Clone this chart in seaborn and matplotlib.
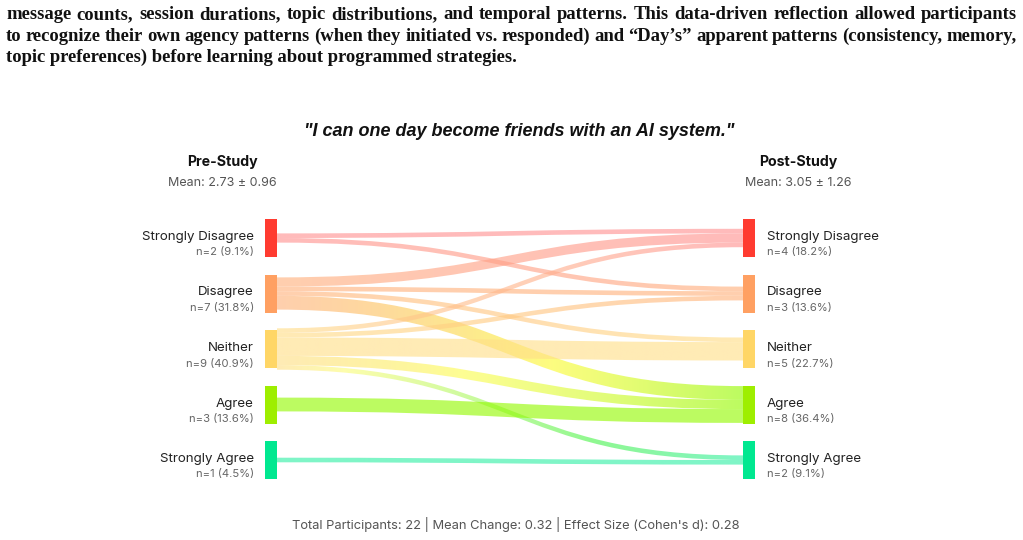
import numpy as np
import matplotlib
matplotlib.use("Agg")
import matplotlib.pyplot as plt
import matplotlib.colors as mcolors
from matplotlib.path import Path
from matplotlib.patches import PathPatch, Rectangle
import seaborn as sns

# survey data: Likert levels, counts before/after, and the transitions between them
levels = ["Strongly Disagree", "Disagree", "Neither", "Agree", "Strongly Agree"]
pre_counts = [2, 7, 9, 3, 1]
post_counts = [4, 3, 5, 8, 2]
flow_from = [0, 0, 1, 1, 1, 1, 2, 2, 2, 2, 2, 3, 4]
flow_to = [0, 1, 0, 1, 2, 3, 0, 1, 2, 3, 4, 3, 4]
flow_n = [1, 1, 2, 1, 1, 3, 1, 1, 4, 2, 1, 3, 1]

node_colors = ["#FF3B30", "#FFA062", "#FFD666", "#9EEE00", "#00E890"]
link_colors = ["#FF9191", "#FFB27C", "#FFDF88", "#94FA00", "#32EFA6"]

title = '"I can one day become friends with an AI system."'
paragraph = [
    "message counts, session durations, topic distributions, and temporal patterns. This data-driven reflection allowed participants",
    "to recognize their own agency patterns (when they initiated vs. responded) and \u201cDay\u2019s\u201d apparent patterns (consistency, memory,",
    "topic preferences) before learning about programmed strategies.",
]

sns.set_theme(style="white")
plt.rcParams["font.family"] = ["Inter", "DejaVu Sans"]

fig = plt.figure(figsize=(10.23, 5.40), dpi=100)
ax = fig.add_axes([0, 0, 1, 1])
ax.axis("off")

# layout in pixel units
left_x, right_x, node_w = 265, 743, 12
node_top, node_h, node_gap = 219, 38, 17.5
unit = 4.6  # link thickness per participant

node_y = [node_top + i * (node_h + node_gap) for i in range(len(levels))]
centers = [y + node_h / 2 for y in node_y]
total = sum(pre_counts)

# stack link ends inside each node
src_off, tgt_off = {}, {}
for i in range(len(levels)):
    out = [k for k in range(len(flow_n)) if flow_from[k] == i]
    out.sort(key=lambda k: flow_to[k])
    y = centers[i] - unit * sum(flow_n[k] for k in out) / 2
    for k in out:
        src_off[k] = y
        y += unit * flow_n[k]
    inc = [k for k in range(len(flow_n)) if flow_to[k] == i]
    inc.sort(key=lambda k: flow_from[k])
    y = centers[i] - unit * sum(flow_n[k] for k in inc) / 2
    for k in inc:
        tgt_off[k] = y
        y += unit * flow_n[k]


def hsv_gradient(c0, c1, n=200):
    h0 = mcolors.rgb_to_hsv(mcolors.to_rgb(c0))
    h1 = mcolors.rgb_to_hsv(mcolors.to_rgb(c1))
    t = np.linspace(0, 1, n)[:, None]
    hsv = h0 * (1 - t) + h1 * t
    return mcolors.hsv_to_rgb(hsv)


x0, x1 = left_x + node_w, right_x
xm = (x0 + x1) / 2
for k in range(len(flow_n)):
    w = unit * flow_n[k]
    ya, yb = src_off[k], tgt_off[k]
    verts = [(x0, ya), (xm, ya), (xm, yb), (x1, yb),
             (x1, yb + w), (xm, yb + w), (xm, ya + w), (x0, ya + w), (x0, ya)]
    codes = [Path.MOVETO, Path.CURVE4, Path.CURVE4, Path.CURVE4,
             Path.LINETO, Path.CURVE4, Path.CURVE4, Path.CURVE4, Path.CLOSEPOLY]
    patch = PathPatch(Path(verts, codes), facecolor="none", edgecolor="none")
    ax.add_patch(patch)
    grad = hsv_gradient(link_colors[flow_from[k]], link_colors[flow_to[k]])
    img = np.ones((1, len(grad), 4))
    img[0, :, :3] = grad
    img[0, :, 3] = 0.62
    lo, hi = min(ya, yb) - 1, max(ya, yb) + w + 1
    im = ax.imshow(img, extent=(x0, x1, hi, lo), aspect="auto",
                   interpolation="bilinear", zorder=1)
    im.set_clip_path(patch)

# nodes and labels
for i, lev in enumerate(levels):
    for x, counts, side in [(left_x, pre_counts, "L"), (right_x, post_counts, "R")]:
        ax.add_patch(Rectangle((x, node_y[i]), node_w, node_h,
                               facecolor=node_colors[i], edgecolor="none", zorder=3))
        if side == "L":
            tx, ha = x - 11, "right"
        else:
            tx, ha = x + node_w + 12, "left"
        ax.text(tx, centers[i] - 1, lev, ha=ha, va="center", fontsize=9.6, color="#222222")
        ax.text(tx, centers[i] + 14.5, f"n={counts[i]} ({100 * counts[i] / total:.1f}%)",
                ha=ha, va="center", fontsize=8.1, color="#666666")

scores = np.arange(1, len(levels) + 1)
pre_vals = np.repeat(scores, pre_counts)
post_vals = np.repeat(scores, post_counts)
pre_mean, post_mean = pre_vals.mean(), post_vals.mean()
pre_sd, post_sd = pre_vals.std(), post_vals.std()
cohen_d = (post_mean - pre_mean) / np.sqrt((pre_sd ** 2 + post_sd ** 2) / 2)

for x, name, m, s in [(222, "Pre-Study", pre_mean, pre_sd), (798, "Post-Study", post_mean, post_sd)]:
    ax.text(x, 162, name, ha="center", va="center", fontsize=10.2, fontweight="bold", color="#111111")
    ax.text(x, 183, f"Mean: {m:.2f} \u00b1 {s:.2f}", ha="center", va="center", fontsize=9.0, color="#555555")

ax.text(519, 132, title, ha="center", va="center", fontsize=13.0, fontweight="bold",
        fontstyle="italic", family=["Liberation Sans", "DejaVu Sans"], color="#111111")

ax.text(516, 525, f"Total Participants: {total} | Mean Change: {post_mean - pre_mean:.2f} | "
        f"Effect Size (Cohen's d): {cohen_d:.2f}",
        ha="center", va="center", fontsize=9.3, color="#555555")

ax.set_xlim(0, 1023)
ax.set_ylim(540, 0)

# paragraph text above the figure, first two lines justified word by word
renderer = fig.canvas.get_renderer()
serif = dict(family=["Liberation Serif", "DejaVu Serif"], fontweight="bold", fontsize=12.0, color="#111111")
probe = ax.text(0, 0, paragraph[0], **serif)
serif["fontsize"] = 12.0 * 990 / probe.get_window_extent(renderer).width
probe.remove()
baselines = [19, 41, 62]
for li, line in enumerate(paragraph):
    if li == len(paragraph) - 1:
        ax.text(6, baselines[li], line, ha="left", va="baseline", **serif)
        continue
    words = line.split(" ")
    objs = [ax.text(0, baselines[li], wd, ha="left", va="baseline", **serif) for wd in words]
    widths = [o.get_window_extent(renderer).width for o in objs]
    gap = (1011 - sum(widths)) / (len(words) - 1)
    x = 6
    for o, wd in zip(objs, widths):
        o.set_x(x)
        x += wd + gap

fig.savefig("out.png", dpi=100)
